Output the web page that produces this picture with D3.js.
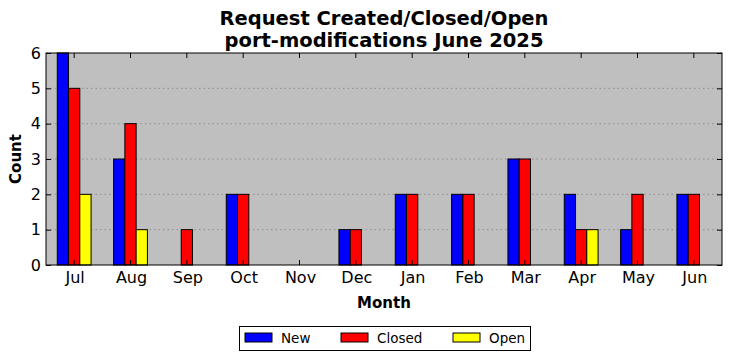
<!DOCTYPE html>
<html><head><meta charset="utf-8">
<script src="https://cdn.jsdelivr.net/npm/d3@7"></script>
<style>body{margin:0;background:#fff;} text{font-family:"DejaVu Sans",sans-serif;}</style>
</head><body>
<svg id="c" width="732" height="361"></svg>
<script>
const months = ["Jul","Aug","Sep","Oct","Nov","Dec","Jan","Feb","Mar","Apr","May","Jun"];
const seriesNames = ["New","Closed","Open"];
const seriesColors = ["#0000ff","#ff0000","#ffff00"];
const newVals = [6,3,0,2,0,1,2,2,3,2,1,2];
const closedVals = [5,4,1,2,0,1,2,2,3,1,2,2];
const openVals = [2,1,0,0,0,0,0,0,0,1,0,0];
const yTicks = [0,1,2,3,4,5,6];
const titleLines = ["Request Created/Closed/Open","port-modifications June 2025"];

const svg = d3.select("#c");
const L=46, R=722, T=53, B=265;
const x = d3.scaleBand().domain(months).range([L,R]).padding(0);
const xs = d3.scaleBand().domain(seriesNames).range([x.bandwidth()*0.2, x.bandwidth()*0.8]).padding(0);
const y = d3.scaleLinear().domain([0,6]).range([B,T]);

svg.append("rect").attr("x",L).attr("y",T).attr("width",R-L).attr("height",B-T).attr("fill","#bfbfbf");
// grid
svg.append("g").selectAll("line").data(yTicks.slice(1,-1)).join("line")
  .attr("x1",L).attr("x2",R).attr("y1",d=>y(d)).attr("y2",d=>y(d))
  .attr("stroke","#808080").attr("stroke-width",0.8).attr("stroke-dasharray","1.5,3");

const vals = [newVals, closedVals, openVals];
const data = [];
months.forEach((m,i)=>seriesNames.forEach((s,j)=>data.push({m,s,v:vals[j][i],c:seriesColors[j]})));
svg.append("g").selectAll("rect").data(data).join("rect")
  .attr("x",d=>x(d.m)+xs(d.s)).attr("width",xs.bandwidth())
  .attr("y",d=>y(d.v)).attr("height",d=>y(0)-y(d.v))
  .attr("fill",d=>d.c).attr("stroke","#000").attr("stroke-width",1);

// axes
const xAxB = svg.append("g").attr("transform",`translate(0,${B})`)
  .call(d3.axisBottom(x).tickSizeInner(-5).tickSizeOuter(0).tickPadding(7));
const xAxT = svg.append("g").attr("transform",`translate(0,${T})`)
  .call(d3.axisTop(x).tickSizeInner(-5).tickSizeOuter(0).tickFormat(""));
const yAxL = svg.append("g").attr("transform",`translate(${L},0)`)
  .call(d3.axisLeft(y).tickValues(yTicks).tickFormat(d3.format("d")).tickSizeInner(-5).tickSizeOuter(0).tickPadding(5));
const yAxR = svg.append("g").attr("transform",`translate(${R},0)`)
  .call(d3.axisRight(y).tickValues(yTicks).tickSizeInner(-5).tickSizeOuter(0).tickFormat(""));
[xAxB,xAxT,yAxL,yAxR].forEach(g=>{
  g.select(".domain").remove();
  g.selectAll("line").attr("stroke","#000");
  g.selectAll("text").attr("font-size",16).attr("fill","#000").attr("font-family","DejaVu Sans");
});
xAxB.selectAll("text").attr("dx",1);
svg.append("rect").attr("x",L).attr("y",T).attr("width",R-L).attr("height",B-T)
  .attr("fill","none").attr("stroke","#000").attr("stroke-width",1);

// titles
const cx=(L+R)/2;
svg.append("text").attr("x",cx).attr("y",25).attr("text-anchor","middle").attr("font-size",19.5).attr("font-weight","bold").text(titleLines[0]);
svg.append("text").attr("x",cx).attr("y",47).attr("text-anchor","middle").attr("font-size",19.5).attr("font-weight","bold").text(titleLines[1]);
svg.append("text").attr("x",cx).attr("y",308).attr("text-anchor","middle").attr("font-size",15).attr("font-weight","bold").text("Month");
svg.append("text").attr("transform",`translate(21,${(T+B)/2}) rotate(-90)`).attr("text-anchor","middle").attr("font-size",15).attr("font-weight","bold").text("Count");

// legend
const lg = svg.append("g");
lg.append("rect").attr("x",239.5).attr("y",326.5).attr("width",291).attr("height",24).attr("fill","#fff").attr("stroke","#000");
const lx=[245,341,453];
seriesNames.forEach((s,j)=>{
  lg.append("rect").attr("x",lx[j]).attr("y",333).attr("width",27).attr("height",9).attr("fill",seriesColors[j]).attr("stroke","#000");
  lg.append("text").attr("x",lx[j]+36).attr("y",343).attr("font-size",13.5).text(s);
});
</script>
</body></html>
